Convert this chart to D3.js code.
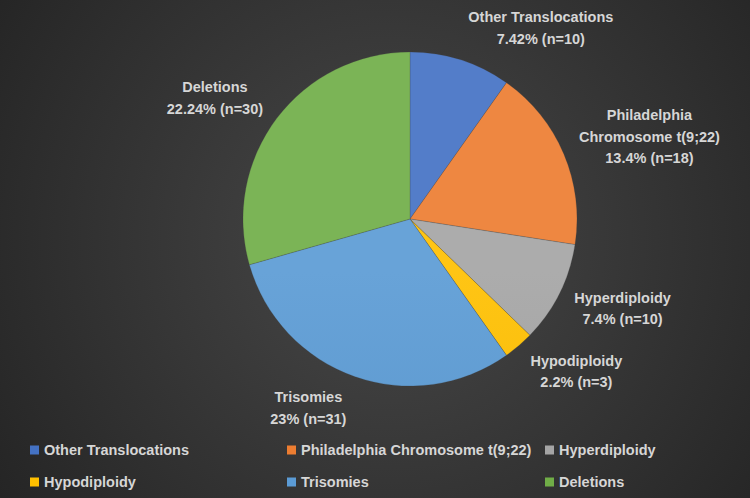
<!DOCTYPE html>
<html>
<head>
<meta charset="utf-8">
<script src="https://cdn.jsdelivr.net/npm/d3@7/dist/d3.min.js"></script>
<style>
  html, body { margin: 0; padding: 0; background: #2a2a2a; }
  svg { display: block; }
</style>
</head>
<body>
<svg id="chart" width="750" height="498"></svg>
<script>
// ---- data ----
const categories = ["Other Translocations", "Philadelphia Chromosome t(9;22)", "Hyperdiploidy", "Hypodiploidy", "Trisomies", "Deletions"];
const counts = [10, 18, 10, 3, 31, 30];
const percentLabels = ["7.42%", "13.4%", "7.4%", "2.2%", "23%", "22.24%"];
const labelNameLines = [["Other Translocations"], ["Philadelphia", "Chromosome t(9;22)"], ["Hyperdiploidy"], ["Hypodiploidy"], ["Trisomies"], ["Deletions"]];
const colors = ["#4472C4", "#ED7D31", "#A5A5A5", "#FFC000", "#5B9BD5", "#70AD47"];

// ---- layout ----
const W = 750, H = 498;
const cx = 410, cy = 219, R = 167;
const FONT = "'Liberation Sans', Arial, sans-serif";
const FS = 14.5;
const LINE = 21.5;
const textColor = "#d6d6d6";

const svg = d3.select("#chart");
const defs = svg.append("defs");

const bg = defs.append("radialGradient").attr("id", "bg")
  .attr("gradientUnits", "userSpaceOnUse")
  .attr("cx", 390).attr("cy", 240).attr("r", 480);
bg.append("stop").attr("offset", "0%").attr("stop-color", "#484848");
bg.append("stop").attr("offset", "100%").attr("stop-color", "#242424");
svg.append("rect").attr("width", W).attr("height", H).attr("fill", "url(#bg)");

// slice gradients
colors.forEach((c, i) => {
  const g = defs.append("linearGradient").attr("id", "g" + i)
    .attr("gradientUnits", "userSpaceOnUse")
    .attr("x1", 0).attr("y1", cy - R).attr("x2", 0).attr("y2", cy + R);
  g.append("stop").attr("offset", "0%").attr("stop-color", d3.interpolateRgb(c, "#ffffff")(0.08));
  g.append("stop").attr("offset", "100%").attr("stop-color", d3.color(c).darker(0.15));
});

const pie = d3.pie().sort(null).value(d => d)(counts);
const arc = d3.arc().innerRadius(0).outerRadius(R);

const gPie = svg.append("g").attr("transform", `translate(${cx},${cy})`);
gPie.selectAll("path").data(pie).join("path")
  .attr("d", arc)
  .attr("fill", (d, i) => `url(#g${i})`)
  .attr("stroke", "rgba(60,60,60,0.35)")
  .attr("stroke-width", 0.6);

// data labels
const gLab = svg.append("g");
pie.forEach((d, i) => {
  const mid = (d.startAngle + d.endAngle) / 2;
  const s = Math.sin(mid), c = Math.cos(mid);
  const ar = R + 12;
  const ax = cx + ar * s, ay = cy - ar * c;
  const lines = labelNameLines[i].concat([`${percentLabels[i]} (n=${counts[i]})`]);
  const t = gLab.append("text")
    .attr("font-family", FONT).attr("font-size", FS).attr("font-weight", "bold")
    .attr("fill", textColor).attr("text-anchor", "middle");
  lines.forEach((ln, k) => t.append("tspan").attr("x", 0).attr("dy", k === 0 ? 0 : LINE).text(ln));
  const bb = t.node().getBBox();
  const w = bb.width, h = lines.length * LINE;
  const gap = 4;
  const lx = ax + (s >= 0 ? 1 : -1) * (w / 2 + gap);
  const ly = ay - c * h / 2;
  const firstBase = ly - h / 2 + LINE / 2 + FS * 0.35;
  t.attr("transform", `translate(${lx},${firstBase})`);
});

// legend
const legCols = [30, 287, 545];
const legRows = [450, 482];
const gLeg = svg.append("g");
categories.forEach((name, i) => {
  const x = legCols[i % 3], y = legRows[Math.floor(i / 3)];
  gLeg.append("rect").attr("x", x).attr("y", y - 4.5).attr("width", 9).attr("height", 9).attr("fill", colors[i]);
  gLeg.append("text").attr("x", x + 14).attr("y", y + 5)
    .attr("font-family", FONT).attr("font-size", FS).attr("font-weight", "bold")
    .attr("fill", textColor).text(name);
});
</script>
</body>
</html>
